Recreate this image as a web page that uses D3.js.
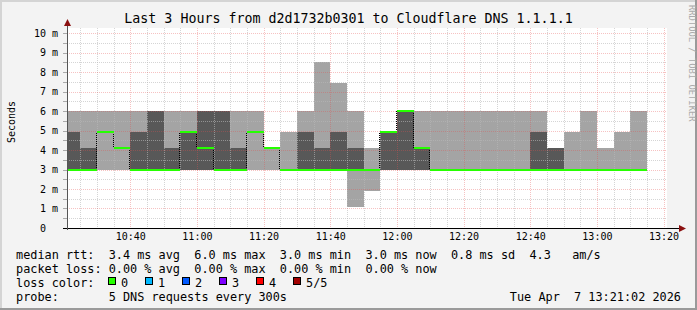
<!DOCTYPE html>
<html>
<head>
<meta charset="utf-8">
<script src="https://cdn.jsdelivr.net/npm/d3@7/dist/d3.min.js"></script>
<style>
  body { margin: 0; background: #f3f3f3; }
  svg text { font-family: "DejaVu Sans Mono", monospace; white-space: pre; }
</style>
</head>
<body>
<svg id="chart" width="697" height="310"></svg>
<script>
const title = 'Last 3 Hours from d2d1732b0301 to Cloudflare DNS 1.1.1.1';
const startTime = new Date(2026, 3, 7, 10, 21, 2);
const endTime = new Date(2026, 3, 7, 13, 21, 2);
const firstSlot = new Date(2026, 3, 7, 10, 20, 0);

// 5 pings per 300s step, sorted (ms)
const ping1 = [3, 3, 3, 3, 3, 3, 3, 3, 3, 3, 3, 3, 3, 3, 3, 3, 3, 1.1, 1.9, 3, 3, 3, 3, 3, 3, 3, 3, 3, 3, 3, 3, 3, 3, 3, 3];
const ping2 = [3, 3, 4.9, 4.1, 3, 3, 3, 3, 3, 3, 3, 4.9, 4.1, 3, 3, 3, 3, 3, 3, 3, 3, 3, 3, 3, 3, 3, 3, 3, 3, 3, 3, 3, 3, 3, 3];
const median = [3, 3, 4.9, 4.1, 3, 3, 3, 4.9, 4.1, 3, 3, 4.9, 4.1, 3, 3, 3, 3, 3, 3, 4.9, 6, 4.1, 3, 3, 3, 3, 3, 3, 3, 3, 3, 3, 3, 3, 3];
const ping4 = [4.9, 4.1, 4.9, 4.1, 4.9, 6, 4.1, 4.9, 6, 6, 4.1, 4.9, 4.1, 3, 4.9, 4.1, 4.9, 4.1, 3, 4.9, 6, 4.1, 3, 3, 3, 3, 3, 3, 4.9, 4.1, 3, 3, 3, 3, 3];
const ping5 = [6, 6, 6, 6, 6, 6, 6, 6, 6, 6, 6, 6, 4.1, 4.9, 6, 8.5, 7.45, 6, 4.1, 4.9, 6, 6, 6, 6, 6, 6, 6, 6, 6, 4.1, 4.9, 6, 4.1, 4.9, 6];

const yTicks = [0, 1, 2, 3, 4, 5, 6, 7, 8, 9, 10];
const yTickLabels = ['0  ', '1 m', '2 m', '3 m', '4 m', '5 m', '6 m', '7 m', '8 m', '9 m', '10 m'];

const rttStats = [['3.4', 'avg'], ['6.0', 'max'], ['3.0', 'min'], ['3.0', 'now'], ['0.8', 'sd']];
const rttAms = '4.3';
const lossStats = [['0.00', 'avg'], ['0.00', 'max'], ['0.00', 'min'], ['0.00', 'now']];
const lossLabels = ['0', '1', '2', '3', '4', '5/5'];
const lossColors = ['#26ff00', '#00b8ff', '#0059ff', '#7e00ff', '#ff0000', '#a10000'];
const probeText = '5 DNS requests every 300s';
const stampText = 'Tue Apr  7 13:21:02 2026';

const svg = d3.select('#chart');
const W = 697, H = 310;
const pLeft = 67, pRight = 667, pTop = 28, pBottom = 228;

const x = d3.scaleTime().domain([startTime, endTime]).range([pLeft, pRight]);
const y = d3.scaleLinear().domain([0, 200 / 19.5]).range([pBottom, pTop]);

const slots = median.map((m, i) => d3.timeMinute.offset(firstSlot, 5 * i));
const slotEnd = d => d3.timeMinute.offset(d, 5);

// frame
svg.append('rect').attr('width', W).attr('height', H).attr('fill', '#f3f3f3');
svg.append('rect').attr('x', 0).attr('y', 0).attr('width', W).attr('height', 2).attr('fill', '#d4d4d4');
svg.append('rect').attr('x', 0).attr('y', 0).attr('width', 2).attr('height', H).attr('fill', '#d4d4d4');
svg.append('rect').attr('x', 0).attr('y', H - 2).attr('width', W).attr('height', 2).attr('fill', '#9a9a9a');
svg.append('rect').attr('x', W - 2).attr('y', 0).attr('width', 2).attr('height', H).attr('fill', '#9a9a9a');

svg.append('rect').attr('x', pLeft).attr('y', pTop).attr('width', pRight - pLeft).attr('height', pBottom - pTop).attr('fill', '#fff');

svg.append('defs').append('clipPath').attr('id', 'plot')
  .append('rect').attr('x', pLeft).attr('y', pTop).attr('width', pRight - pLeft).attr('height', pBottom - pTop);

const g = svg.append('g').attr('clip-path', 'url(#plot)').attr('shape-rendering', 'crispEdges');

// smoke
g.selectAll('rect.light').data(slots).join('rect').attr('class', 'light')
  .attr('x', d => x(d)).attr('width', d => x(slotEnd(d)) - x(d))
  .attr('y', (d, i) => y(ping5[i])).attr('height', (d, i) => y(ping1[i]) - y(ping5[i]))
  .attr('fill', '#a4a4a4');
g.selectAll('rect.dark').data(slots).join('rect').attr('class', 'dark')
  .attr('x', d => x(d)).attr('width', d => x(slotEnd(d)) - x(d))
  .attr('y', (d, i) => y(ping4[i])).attr('height', (d, i) => y(ping2[i]) - y(ping4[i]))
  .attr('fill', '#585858');

// grid
const minorX = d3.timeMinute.every(5).range(startTime, endTime);
const majorX = d3.timeMinute.every(20).range(startTime, endTime);
const minorY = d3.range(0.5, 10.3, 1);
const minorCol = 'rgba(185,185,185,0.6)';
const majorCol = 'rgba(230,80,80,0.35)';
const grid = svg.append('g').attr('shape-rendering', 'crispEdges');
grid.selectAll('line.vx').data(minorX.filter(t => t.getMinutes() % 20 !== 0)).join('line')
  .attr('x1', d => Math.round(x(d)) + 0.5).attr('x2', d => Math.round(x(d)) + 0.5)
  .attr('y1', pTop).attr('y2', pBottom)
  .attr('stroke', minorCol).attr('stroke-dasharray', '1,1');
grid.selectAll('line.hy').data(minorY).join('line')
  .attr('x1', pLeft).attr('x2', pRight)
  .attr('y1', d => Math.round(y(d)) + 0.5).attr('y2', d => Math.round(y(d)) + 0.5)
  .attr('stroke', minorCol).attr('stroke-dasharray', '1,1');
grid.selectAll('line.mx').data(majorX).join('line')
  .attr('x1', d => Math.round(x(d)) + 0.5).attr('x2', d => Math.round(x(d)) + 0.5)
  .attr('y1', pTop).attr('y2', pBottom)
  .attr('stroke', majorCol).attr('stroke-dasharray', '1,1');
grid.selectAll('line.my').data(yTicks.slice(1)).join('line')
  .attr('x1', pLeft).attr('x2', pRight)
  .attr('y1', d => Math.round(y(d)) + 0.5).attr('y2', d => Math.round(y(d)) + 0.5)
  .attr('stroke', majorCol).attr('stroke-dasharray', '1,1');
// small ticks left of axis
grid.selectAll('line.ty').data(minorY.concat(yTicks)).join('line')
  .attr('x1', pLeft - 4).attr('x2', pLeft)
  .attr('y1', d => Math.round(y(d)) + 0.5).attr('y2', d => Math.round(y(d)) + 0.5)
  .attr('stroke', '#aaa');

// median: dotted black risers, green step segments
const med = svg.append('g').attr('clip-path', 'url(#plot)').attr('shape-rendering', 'crispEdges');
const risers = d3.range(1, slots.length).filter(i => median[i] !== median[i - 1]);
med.selectAll('line.step').data(risers).join('line')
  .attr('x1', i => Math.round(x(slots[i])) - 0.5).attr('x2', i => Math.round(x(slots[i])) - 0.5)
  .attr('y1', i => y(median[i - 1])).attr('y2', i => y(median[i]))
  .attr('stroke', '#000').attr('stroke-dasharray', '1,1');
med.selectAll('rect.med').data(slots).join('rect')
  .attr('x', d => x(d)).attr('width', d => x(slotEnd(d)) - x(d))
  .attr('y', (d, i) => Math.round(y(median[i])) - 1).attr('height', 2)
  .attr('fill', lossColors[0]);

// axes
const xAxis = d3.axisBottom(x).tickValues(majorX).tickFormat(d3.timeFormat('%H:%M')).tickSize(0).tickPadding(5);
const gx = svg.append('g').attr('transform', `translate(0,${pBottom})`).call(xAxis);
gx.select('.domain').remove();
gx.selectAll('text').attr('font-size', 10).attr('font-family', '"DejaVu Sans Mono", monospace').attr('fill', '#000');

const yAxis = d3.axisLeft(y).tickValues(yTicks).tickFormat((d, i) => yTickLabels[i]).tickSize(0).tickPadding(9);
const gy = svg.append('g').attr('transform', `translate(${pLeft},0)`).call(yAxis);
gy.select('.domain').remove();
gy.selectAll('text').attr('font-size', 10).attr('font-family', '"DejaVu Sans Mono", monospace').attr('fill', '#000');

svg.append('line').attr('x1', pLeft - 4).attr('x2', 681).attr('y1', pBottom + 0.5).attr('y2', pBottom + 0.5)
  .attr('stroke', '#000').attr('shape-rendering', 'crispEdges');
svg.append('line').attr('x1', pLeft + 0.5).attr('x2', pLeft + 0.5).attr('y1', pBottom + 2).attr('y2', 24)
  .attr('stroke', '#555').attr('shape-rendering', 'crispEdges');
svg.append('path').attr('d', `M${pLeft + 0.5},19 L${pLeft - 3},26 L${pLeft + 4},26 Z`).attr('fill', '#8b1010');
svg.append('path').attr('d', `M686,${pBottom + 0.5} L679,${pBottom - 3} L679,${pBottom + 4} Z`).attr('fill', '#8b1010');

// titles
svg.append('text').attr('x', W / 2).attr('y', 23).attr('text-anchor', 'middle')
  .attr('font-size', 13.3).text(title);
svg.append('text').attr('transform', 'translate(14.5,122) rotate(-90)').attr('text-anchor', 'middle')
  .attr('font-size', 10).text('Seconds');
svg.append('text').attr('transform', 'translate(689,5) rotate(90)')
  .attr('font-size', 8.8).attr('fill', '#aaa').text('RRDTOOL / TOBI OETIKER');

// legend
const fs = 11.85;
const rttLine = 'median rtt:  ' + rttStats.map(s => `${s[0]} ms ${s[1]}`).join('  ') + `  ${rttAms}   am/s`;
const lossLine = 'packet loss: ' + lossStats.map(s => `${s[0]} % ${s[1]}`).join('  ');
svg.append('text').attr('x', 16).attr('y', 258.5).attr('font-size', fs).text(rttLine);
svg.append('text').attr('x', 16).attr('y', 272.5).attr('font-size', fs).text(lossLine);
svg.append('text').attr('x', 16).attr('y', 286.5).attr('font-size', fs).text('loss color:');
const lc = svg.append('g');
lossLabels.forEach((lab, i) => {
  const bx = 108.5 + i * 37;
  lc.append('rect').attr('x', bx).attr('y', 277.5).attr('width', 7).attr('height', 7)
    .attr('fill', lossColors[i]).attr('stroke', '#000').attr('shape-rendering', 'crispEdges');
  lc.append('text').attr('x', bx + 12.5).attr('y', 286.5).attr('font-size', fs).text(lab);
});
svg.append('text').attr('x', 16).attr('y', 300.5).attr('font-size', fs).text('probe:');
svg.append('text').attr('x', 16 + 13 * 7.13).attr('y', 300.5).attr('font-size', fs).text(probeText);
svg.append('text').attr('x', 681).attr('y', 300.5).attr('text-anchor', 'end').attr('font-size', fs).text(stampText);
</script>
</body>
</html>
